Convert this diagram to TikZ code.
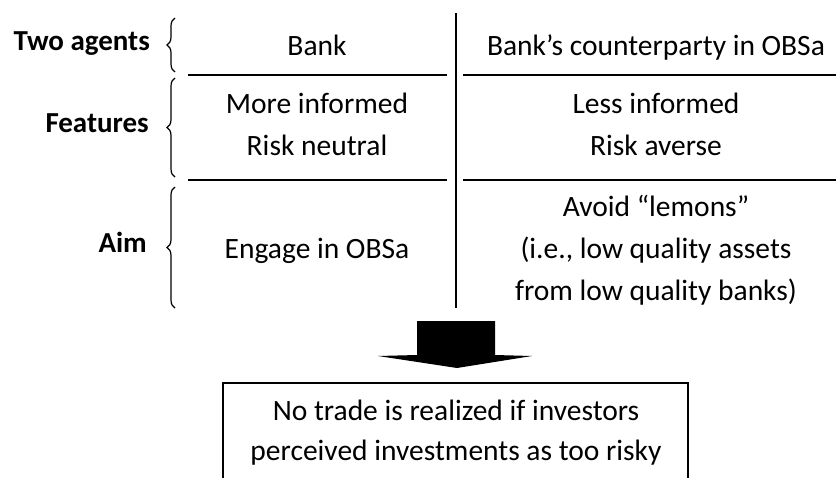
\documentclass[tikz,border=0pt]{standalone}
\usepackage{fontspec}
\setmainfont{Carlito}
\usetikzlibrary{decorations.pathreplacing}
\begin{document}
\begin{tikzpicture}[x=1pt,y=-1pt,
  cell/.style={align=center, inner sep=0pt, anchor=base,
    font=\fontsize{29.5}{42}\selectfont},
  rowlabel/.style={anchor=base east, inner sep=0pt,
    font=\fontsize{29}{34}\selectfont\bfseries},
  rule/.style={line width=1.8pt},
  rowbrace/.style={decorate, decoration={brace, amplitude=8pt}, line width=1.2pt},
  frame/.style={line width=1.8pt}]
\useasboundingbox (0,0) rectangle (836,477);

% row labels and their braces
\node[rowlabel] (lagents)   at (150,50)  {Two agents};
\node[rowlabel] (lfeatures) at (149,132) {Features};
\node[rowlabel] (laim)      at (147,252) {Aim};
\draw[rowbrace] (175,72)  -- (175,18);
\draw[rowbrace] (175,177) -- (175,78);
\draw[rowbrace] (175,308) -- (175,187);

% table rules
\draw[rule] (456,13) -- (456,308);
\draw[rule] (188,75)  -- (447,75);
\draw[rule] (463,75)  -- (836,75);
\draw[rule] (188,180) -- (447,180);
\draw[rule] (463,180) -- (836,180);

% left column: the bank (multi-line cells are placed by their last baseline)
\node[cell] (bank)     at (317,55)  {Bank};
\node[cell] (bankfeat) at (317,155) {More informed\\Risk neutral};
\node[cell] (bankaim)  at (317,258) {Engage in OBSa};

% right column: the counterparty
\node[cell] (cpty)     at (656,55)  {Bank’s counterparty in OBSa};
\node[cell] (cptyfeat) at (656,155) {Less informed\\Risk averse};
\node[cell] (cptyaim)  at (656,300) {Avoid “lemons”\\(i.e., low quality assets\\from low quality banks)};

% block arrow leading to the conclusion
\fill (417,321) -- (495,321) -- (495,355) -- (532,356) -- (457,368)
      -- (378,356) -- (417,355) -- cycle;

% conclusion box (runs off the lower edge)
\draw[frame] (223,383) rectangle (688,540);
\node[cell, font=\fontsize{29.5}{40}\selectfont] (outcome) at (456,460)
  {No trade is realized if investors\\perceived investments as too risky};
\end{tikzpicture}
\end{document}
